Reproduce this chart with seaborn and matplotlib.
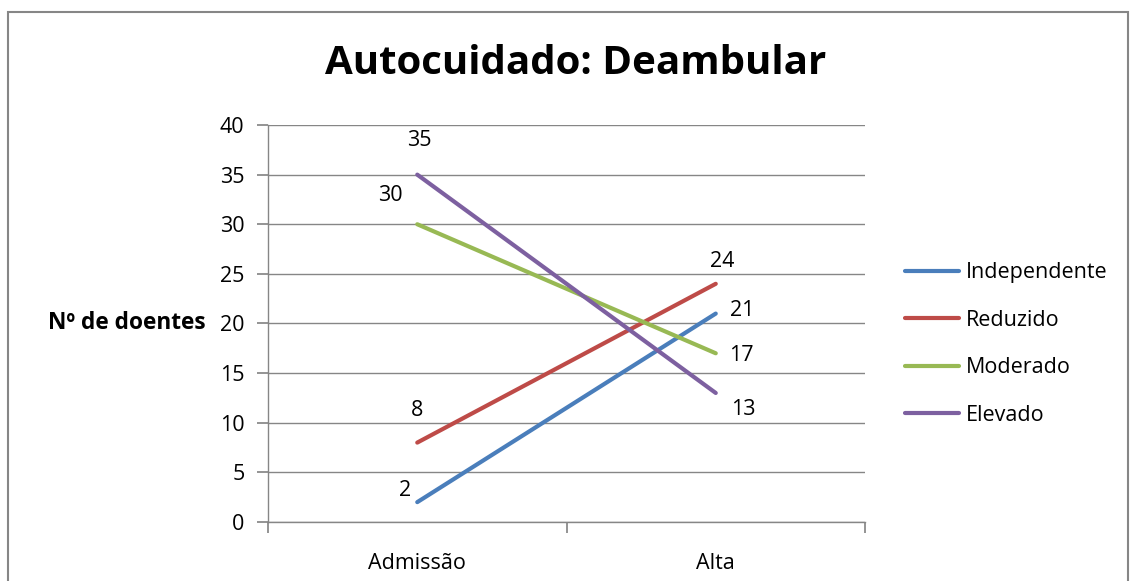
import matplotlib
matplotlib.use("Agg")
import matplotlib.pyplot as plt
import seaborn as sns
import pandas as pd
from matplotlib.patches import Rectangle

categories = ["Admissão", "Alta"]
series_names = ["Independente", "Reduzido", "Moderado", "Elevado"]
independente = [2, 21]
reduzido = [8, 24]
moderado = [30, 17]
elevado = [35, 13]
y_ticks = [0, 5, 10, 15, 20, 25, 30, 35, 40]

colors = {"Independente": "#4A7EBB", "Reduzido": "#BE4B48",
          "Moderado": "#98B954", "Elevado": "#7D60A0"}
# label offsets in pixels per series per category
label_offsets = {
    "Independente": [(-12, 12), (26, 3)],
    "Reduzido": [(0, 32), (6, 22)],
    "Moderado": [(-27, 29), (26, -2)],
    "Elevado": [(2, 34), (28, -17)],
}

values = {"Independente": independente, "Reduzido": reduzido,
          "Moderado": moderado, "Elevado": elevado}
rows = []
for s in series_names:
    for c, v in zip(categories, values[s]):
        rows.append({"cat": c, "val": v, "serie": s})
df = pd.DataFrame(rows)

sns.set_theme(style="white")
plt.rcParams["font.family"] = ["Open Sans", "DejaVu Sans"]
plt.rcParams["text.color"] = "black"
plt.rcParams["xtick.color"] = "black"
plt.rcParams["ytick.color"] = "black"
plt.rcParams["axes.labelcolor"] = "black"

FS = 15.5

fig = plt.figure(figsize=(11.31, 5.81), dpi=100)
ax = fig.add_axes([268/1131, 1-522/581, (865-268)/1131, (522-125)/581])

sns.lineplot(data=df, x="cat", y="val", hue="serie", hue_order=series_names,
             palette=colors, linewidth=3.0, ax=ax, legend=False, sort=False)

ax.set_xlim(-0.5, 1.5)
ax.set_ylim(0, 40)
ax.set_yticks(y_ticks)
ax.set_yticklabels([str(t) for t in y_ticks], fontsize=FS, color="black")
ax.yaxis.grid(True, color="#868686", linewidth=1)
ax.set_axisbelow(True)

ax.set_xticks([-0.5, 0.5, 1.5])
ax.set_xticklabels(["", "", ""])
ax.set_xticks([0, 1], minor=True)
ax.set_xticklabels(categories, minor=True, fontsize=FS, color="black")
ax.tick_params(axis="x", which="major", length=8, color="#868686", direction="out")
ax.tick_params(axis="x", which="minor", length=0, pad=22)
ax.tick_params(axis="y", length=8, color="#868686", direction="out", pad=9)
ax.tick_params(axis="both", bottom=True, left=True)
ax.tick_params(axis="x", which="minor", bottom=False)

for side in ["top", "right"]:
    ax.spines[side].set_visible(False)
for side in ["left", "bottom"]:
    ax.spines[side].set_color("#868686")
    ax.spines[side].set_linewidth(1)

ax.set_xlabel("")
ax.set_ylabel("Nº de doentes", rotation=0, fontsize=16.3, fontweight="bold",
              ha="right", va="center", color="black")
ax.yaxis.set_label_coords(-(268-206)/(865-268), 0.5)

for s in series_names:
    for i, v in enumerate(values[s]):
        dx, dy = label_offsets[s][i]
        ax.annotate(str(v), xy=(i, v), xytext=(dx, dy), textcoords="offset pixels",
                    ha="center", va="center", fontsize=FS, color="black")

fig.suptitle("Autocuidado: Deambular", x=576/1131, y=1-64/581, va="center",
             fontsize=29, fontweight="bold", color="black")

handles = [plt.Line2D([0], [0], color=colors[s], linewidth=3.0) for s in series_names]
fig.legend(handles, series_names, loc="upper left",
           bbox_to_anchor=(886/1131, 1-243/581), frameon=False, fontsize=FS,
           handlelength=2.5, handletextpad=0.3, labelspacing=1.23,
           labelcolor="black")

fig.patches.append(Rectangle((8/1131, -0.05), (1128-8)/1131, 1.05-12/581,
                             transform=fig.transFigure, fill=False,
                             edgecolor="#868686", linewidth=1.5))

fig.savefig("out.png", dpi=100)
